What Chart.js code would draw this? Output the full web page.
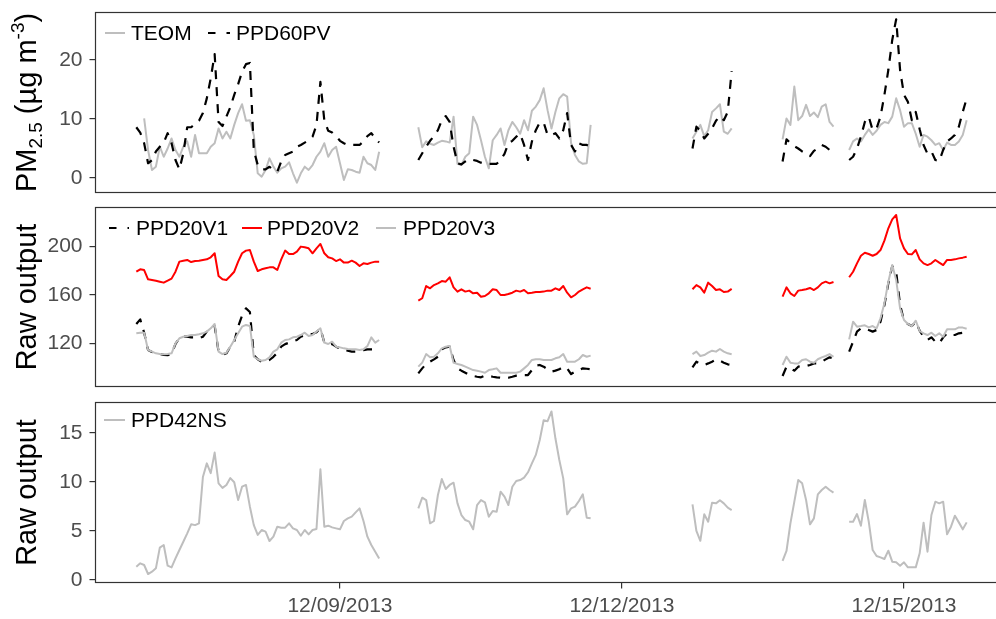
<!DOCTYPE html>
<html>
<head>
<meta charset="utf-8">
<script src="https://cdn.jsdelivr.net/npm/chart.js@4.4.0/dist/chart.umd.min.js"></script>
<style>
  html, body { margin: 0; padding: 0; background: #ffffff; overflow: hidden; }
  #wrap { position: relative; width: 996px; height: 619px; overflow: hidden; background: #ffffff; }
  #wrap canvas { position: absolute; left: 0; top: 0; }
</style>
</head>
<body>
<div id="wrap">
  <canvas id="pm" width="1000" height="619"></canvas>
  <canvas id="ppd20" width="1000" height="619"></canvas>
  <canvas id="ppd42" width="1000" height="619"></canvas>
</div>
<script>
// Time axis: hours counted from 06 Dec 2013 00:00, hourly readings split into runs.
const runStarts = [20, 92, 162, 185, 202];
const teomStarts = [22, 92, 162, 185, 202];

const xTickHours = [72, 144, 216];
const xTickLabels = ['12/09/2013', '12/12/2013', '12/15/2013'];
const pmTicks = [0, 10, 20];
const ppd20Ticks = [120, 160, 200];
const ppd42Ticks = [0, 5, 10, 15];

// PM2.5 (ug m-3)
const teom = [
  [10.1, 4.75, 1.36, 1.92, 5.3, 3.6, 5.0, 6.7, 4.75, 3.6, 5.3, 6.2, 3.6, 7.3, 4.2, 4.2, 4.2, 5.3, 5.9, 8.4,
   6.7, 7.85, 6.7, 9.0, 11.0, 12.5, 9.7, 9.8, 7.3, 0.8, 0.23, 1.36, 3.33, 1.92, 0.9, 1.64, 1.92, 2.66, 0.8, -0.8,
   0.8, 1.92, 1.36, 2.2, 3.6, 4.46, 5.9, 3.6, 4.75, 5.3, 2.5, -0.34, 1.47, 1.36, 1.07, 0.9, 3.6, 2.5, 2.2, 1.36, 4.46],
  [8.6, 5.2, 6.2, 5.8, 5.6, 6.0, 6.3, 6.2, 6.0, 10.4, 2.4, 2.2, 3.6, 4.2, 10.4, 9.0, 6.4, 3.6, 1.64, 6.4,
   7.3, 8.4, 5.6, 8.1, 9.5, 8.6, 7.5, 9.8, 8.1, 11.4, 12.1, 13.2, 15.2, 11.5, 8.4, 11.2, 13.5, 14.2, 13.8, 5.9,
   3.9, 2.8, 2.4, 2.5, 9.0],
  [6.7, 7.85, 9.0, 7.1, 8.1, 11.2, 11.8, 12.5, 7.85, 7.5, 8.4],
  [6.55, 10.1, 9.0, 15.5, 9.8, 10.5, 12.4, 10.5, 11.1, 10.3, 12.1, 12.5, 9.5, 8.7],
  [4.75, 6.2, 6.7, 6.2, 7.3, 8.25, 7.3, 8.0, 9.0, 9.5, 9.3, 10.4, 13.5, 11.5, 8.7, 9.3, 9.3, 7.5, 5.3, 7.3,
   7.0, 6.4, 5.6, 5.9, 4.75, 6.0, 5.6, 5.6, 6.2, 7.3, 9.8]
];
const ppd60pv = [
  [8.6, 7.7, 5.9, 2.5, 3.0, 4.5, 5.3, 6.0, 7.6, 5.9, 3.05, 1.47, 4.2, 8.6, 8.6, 9.15, 9.7, 11.0, 13.5, 16.9,
   21.0, 9.5, 8.8, 10.4, 12.0, 14.1, 15.9, 18.0, 19.3, 19.5, 4.7, 2.2, 1.47, 1.47, 1.9, 1.36, 1.07, 2.8, 3.9, 4.2,
   4.46, 5.3, 5.6, 6.0, 6.4, 7.0, 9.0, 16.3, 9.8, 8.0, 7.7, 7.1, 6.3, 5.9, 5.6, 5.6, 5.6, 5.6, 6.2, 7.1,
   7.6, 6.7, 6.0],
  [3.05, 4.2, 5.3, 6.3, 7.1, 8.1, 9.8, 10.5, 9.5, 5.3, 2.5, 2.3, 2.8, 3.2, 3.05, 2.9, 2.6, 2.4, 2.4, 2.4,
   2.4, 3.05, 4.1, 5.9, 6.3, 7.0, 7.5, 5.6, 3.05, 6.2, 8.1, 9.4, 9.4, 7.3, 7.3, 7.6, 6.7, 8.1, 11.0, 5.6,
   4.5, 5.9, 5.6, 5.6, 5.3],
  [5.0, 8.7, 8.0, 6.7, 7.5, 8.4, 9.7, 10.5, 9.8, 11.2, 18.1],
  [2.8, 6.55, 5.9, 5.4, 5.0, 4.5, 4.1, 3.7, 4.6, 5.0, 5.6, 5.3, 4.75, 4.3],
  [3.05, 3.6, 5.0, 7.0, 9.5, 10.4, 8.1, 8.4, 10.4, 14.1, 18.3, 23.4, 26.9, 18.3, 14.1, 12.9, 9.8, 11.2, 8.25, 5.6,
   4.1, 4.5, 3.05, 2.9, 4.75, 6.2, 6.7, 7.3, 8.7, 11.2, 13.5]
];

// PPD20 raw output
const ppd20v1 = [
  [136.1, 139.9, 128.9, 114.6, 113.0, 111.9, 111.3, 110.6, 110.3, 111.3, 119.6, 124.3, 125.6, 125.6, 125.1, 125.1, 124.3, 125.6, 129.8, 131.6,
   134.5, 113.3, 110.6, 111.9, 117.4, 121.5, 134.0, 143.0, 149.0, 146.0, 110.2, 107.0, 105.0, 105.0, 106.4, 109.0, 112.4, 117.4, 119.5, 120.7,
   121.8, 122.9, 125.6, 126.7, 127.8, 127.8, 129.2, 132.5, 120.7, 118.8, 119.6, 117.4, 116.0, 114.6, 114.1, 113.3, 113.3, 114.1, 114.6, 115.2,
   115.2, 115.2, 114.1],
  [95.4, 99.5, 103.1, 105.0, 106.9, 109.1, 115.2, 116.8, 117.4, 106.4, 99.5, 97.6, 95.9, 94.0, 93.2, 92.6, 92.1, 93.5, 93.2, 92.6,
   92.1, 91.8, 91.8, 91.8, 92.6, 93.5, 94.0, 94.0, 94.0, 98.1, 101.7, 102.3, 100.9, 98.7, 96.8, 97.6, 98.7, 100.9, 99.5, 94.8,
   96.8, 98.1, 99.5, 99.2, 98.7],
  [100.3, 105.0, 103.1, 102.3, 103.6, 105.0, 106.9, 105.8, 104.2, 102.8, 102.3],
  [93.2, 100.9, 99.5, 97.6, 100.9, 101.4, 101.4, 102.3, 103.6, 103.6, 105.0, 106.9, 108.6, 107.8],
  [113.3, 121.5, 129.8, 132.5, 132.5, 131.1, 129.8, 131.1, 138.0, 151.8, 169.6, 183.9, 179.2, 151.8, 138.8, 136.1, 134.4, 138.0, 130.6, 125.6,
   122.9, 125.1, 121.5, 120.1, 125.1, 128.4, 127.0, 127.0, 128.4, 128.9, 127.8]
];
const ppd20v2 = [
  [179.2, 181.2, 180.6, 172.9, 172.4, 171.8, 171.0, 170.2, 171.8, 173.5, 179.2, 187.5, 188.3, 188.9, 187.2, 188.0, 188.3, 188.9, 189.4, 191.1,
   194.4, 175.7, 172.9, 172.4, 175.7, 179.2, 187.5, 194.4, 196.6, 197.1, 187.5, 179.8, 181.2, 182.0, 182.8, 182.8, 180.6, 189.4, 196.6, 193.8,
   193.8, 195.7, 199.9, 199.3, 198.5, 194.4, 198.5, 202.1, 194.4, 191.1, 190.2, 188.0, 189.4, 186.7, 186.7, 188.3, 186.7, 183.9, 186.1, 185.6,
   186.7, 187.5, 187.5],
  [155.3, 157.3, 167.4, 165.5, 168.2, 169.6, 171.5, 171.0, 174.6, 166.3, 162.8, 164.7, 162.8, 163.6, 161.4, 161.9, 158.6, 159.2, 161.4, 164.7,
   164.1, 160.0, 160.0, 160.8, 161.9, 163.6, 162.8, 164.1, 161.4, 161.9, 162.5, 162.5, 162.8, 163.6, 163.6, 165.5, 164.1, 167.4, 161.9, 158.1,
   160.0, 162.8, 164.7, 166.3, 165.2],
  [164.7, 168.2, 166.3, 161.9, 170.2, 167.4, 164.1, 164.7, 162.5, 162.8, 165.0],
  [158.6, 166.3, 161.4, 159.2, 163.6, 164.1, 164.7, 165.8, 164.1, 166.3, 169.6, 171.0, 169.6, 170.7],
  [174.6, 179.2, 186.1, 192.4, 194.9, 193.8, 192.4, 193.8, 197.1, 204.8, 215.0, 222.4, 226.0, 206.7, 198.5, 193.8, 193.5, 197.1, 189.4, 186.1,
   184.7, 186.1, 188.9, 186.7, 184.7, 188.9, 188.9, 189.4, 190.2, 190.8, 191.6]
];
const ppd20v3 = [
  [128.4, 128.9, 128.9, 114.6, 113.3, 111.9, 111.3, 111.1, 111.3, 111.9, 120.1, 124.3, 125.6, 126.2, 127.0, 127.0, 127.6, 128.4, 129.8, 132.5,
   136.1, 113.3, 111.3, 112.4, 117.4, 122.9, 128.4, 133.9, 135.3, 134.5, 109.1, 107.0, 105.8, 106.4, 108.6, 113.3, 115.2, 120.7, 122.9, 123.4,
   125.1, 125.6, 127.0, 128.9, 126.2, 127.0, 129.8, 132.5, 120.7, 119.6, 121.5, 117.4, 116.8, 116.0, 115.5, 115.2, 115.2, 114.6, 115.2, 117.9,
   125.1, 120.7, 122.9],
  [100.9, 104.2, 111.3, 108.6, 109.1, 111.9, 116.0, 117.4, 117.9, 104.2, 103.1, 102.3, 100.9, 99.5, 98.1, 97.6, 96.8, 95.9, 98.1, 98.7,
   99.5, 95.9, 95.9, 95.9, 95.9, 95.9, 96.8, 99.5, 102.3, 106.4, 107.0, 107.0, 106.4, 106.4, 106.4, 107.8, 108.6, 111.3, 105.0, 105.0,
   105.0, 107.0, 110.5, 109.1, 110.0],
  [111.3, 113.3, 109.7, 110.5, 112.4, 114.1, 113.3, 115.5, 113.3, 111.9, 111.1],
  [102.3, 109.1, 104.2, 103.6, 103.6, 106.4, 107.0, 105.0, 104.2, 107.0, 108.6, 109.7, 111.3, 109.1],
  [123.4, 138.0, 133.9, 134.4, 135.0, 133.3, 134.4, 132.5, 140.8, 153.1, 171.0, 184.7, 172.4, 149.0, 139.4, 136.1, 134.4, 138.8, 130.3, 128.4,
   127.0, 128.9, 126.2, 128.4, 125.6, 131.7, 131.7, 131.7, 133.3, 133.1, 132.2]
];

// PPD42NS raw output
const ppd42ns = [
  [1.36, 1.7, 1.53, 0.61, 0.85, 1.19, 3.3, 3.57, 1.46, 1.29, 2.2, 3.06, 3.9, 4.76, 5.68, 5.6, 5.78, 10.5, 11.9, 10.9,
   13.0, 9.86, 9.4, 9.7, 10.4, 9.97, 8.16, 9.52, 9.7, 7.48, 5.6, 4.6, 5.1, 4.93, 3.98, 4.42, 5.44, 5.34, 5.34, 5.78,
   5.27, 5.1, 4.52, 5.1, 4.66, 5.1, 5.2, 11.3, 5.44, 5.54, 5.37, 5.27, 5.17, 6.02, 6.29, 6.46, 6.9, 7.31, 6.02, 4.42,
   3.57, 2.89, 2.2],
  [7.31, 8.4, 8.16, 5.78, 6.02, 8.67, 10.3, 9.29, 9.7, 9.93, 7.82, 6.63, 6.12, 5.95, 5.17, 7.65, 8.16, 7.93, 6.46, 7.04,
   6.97, 9.01, 8.5, 7.65, 9.52, 10.1, 10.2, 10.44, 10.99, 11.9, 12.76, 14.29, 16.3, 16.2, 17.2, 14.46, 12.24, 10.37, 6.7, 7.31,
   7.48, 8.06, 8.74, 6.36, 6.29],
  [7.72, 5.0, 4.0, 6.7, 5.95, 7.89, 7.82, 8.13, 7.82, 7.38, 7.14],
  [1.94, 2.96, 5.78, 7.99, 10.2, 9.86, 8.16, 5.68, 6.29, 8.74, 9.18, 9.52, 9.18, 8.91],
  [5.95, 5.95, 6.73, 5.54, 8.16, 5.95, 3.06, 2.45, 2.31, 2.14, 2.99, 1.87, 1.8, 1.46, 1.8, 1.29, 1.29, 1.29, 2.72, 5.85,
   2.89, 6.63, 7.99, 7.82, 7.99, 4.66, 5.44, 6.56, 5.88, 5.17, 5.88]
];

// ---- drawing ----
const FONT = '"Liberation Sans", Arial, Helvetica, sans-serif';
const GREY = '#bebebe';
const RED = '#ff0000';
const BLACK = '#000000';
const TEXT_GREY = '#4d4d4d';
const LINE_DARK = '#333333';
const X_MIN = 9.58;
const X_MAX = 240;

// Join hourly runs into {x, y} points; a null point breaks the line between runs.
function runsToPoints(starts, runs) {
  const pts = [];
  runs.forEach((run, k) => {
    if (k > 0) pts.push({ x: starts[k] - 1, y: null });
    run.forEach((v, i) => pts.push({ x: starts[k] + i, y: v }));
  });
  return pts;
}

function series(label, pts, color, dashed, order) {
  return {
    label: label,
    data: pts,
    borderColor: color,
    borderWidth: dashed ? 2.2 : 2,
    borderDash: dashed ? [9, 8] : [],
    borderCapStyle: 'butt',
    borderJoinStyle: 'round',
    pointRadius: 0,
    tension: 0,
    fill: false,
    spanGaps: false,
    order: order
  };
}

const framePlugin = {
  id: 'panelFrame',
  afterDraw(chart) {
    const { ctx, chartArea: a } = chart;
    ctx.save();
    ctx.strokeStyle = LINE_DARK;
    ctx.lineWidth = 1.2;
    ctx.strokeRect(a.left, a.top, a.right - a.left, a.bottom - a.top);
    ctx.restore();
  }
};

// Rotated y-axis title, with optional sub/superscript pieces.
const titlePlugin = {
  id: 'axisTitle',
  afterDraw(chart, args, opts) {
    const { ctx, chartArea: a } = chart;
    const parts = opts.parts;
    ctx.save();
    ctx.translate(opts.x, (a.top + a.bottom) / 2);
    ctx.rotate(-Math.PI / 2);
    ctx.fillStyle = BLACK;
    ctx.textBaseline = 'alphabetic';
    let total = 0;
    const widths = parts.map(p => {
      ctx.font = p.size + 'px ' + FONT;
      const w = ctx.measureText(p.text).width;
      total += w;
      return w;
    });
    let x = -total / 2;
    parts.forEach((p, i) => {
      ctx.font = p.size + 'px ' + FONT;
      ctx.fillText(p.text, x, opts.baseline + (p.dy || 0));
      x += widths[i];
    });
    ctx.restore();
  }
};

// Key drawn inside the panel's top-left corner.
const keyPlugin = {
  id: 'seriesKey',
  afterDraw(chart, args, opts) {
    const { ctx } = chart;
    ctx.save();
    ctx.font = opts.size + 'px ' + FONT;
    ctx.textBaseline = 'middle';
    ctx.fillStyle = BLACK;
    chart.data.datasets.forEach((ds, i) => {
      const it = opts.items[i];
      ctx.strokeStyle = ds.borderColor;
      ctx.lineWidth = ds.borderWidth;
      ctx.lineCap = 'butt';
      ctx.setLineDash(ds.borderDash.length ? opts.dash : []);
      ctx.beginPath();
      ctx.moveTo(it.x, opts.lineY);
      ctx.lineTo(it.x + it.w, opts.lineY);
      ctx.stroke();
      ctx.setLineDash([]);
      ctx.fillText(ds.label, it.tx, opts.textY);
    });
    ctx.restore();
  }
};

function yScale(min, max, ticks) {
  return {
    type: 'linear',
    min: min,
    max: max,
    afterBuildTicks: s => { s.ticks = ticks.map(v => ({ value: v })); },
    afterFit: s => { s.width = 95.5; s.paddingTop = 0; s.paddingBottom = 0; },
    ticks: { font: { family: FONT, size: 21 }, color: TEXT_GREY, padding: 7 },
    grid: { drawOnChartArea: false, drawTicks: true, tickLength: 6, color: LINE_DARK, lineWidth: 1.2 },
    border: { display: false }
  };
}

function hiddenX() {
  return { type: 'linear', min: X_MIN, max: X_MAX, display: false };
}

function shownX() {
  return {
    type: 'linear',
    min: X_MIN,
    max: X_MAX,
    position: 'bottom',
    afterBuildTicks: s => { s.ticks = xTickHours.map(v => ({ value: v })); },
    afterFit: s => { s.height = 36.5; s.paddingLeft = 0; s.paddingRight = 0; },
    ticks: {
      callback: v => xTickLabels[xTickHours.indexOf(v)],
      font: { family: FONT, size: 21 },
      color: TEXT_GREY,
      padding: 5,
      maxRotation: 0,
      autoSkip: false
    },
    grid: { drawOnChartArea: false, drawTicks: true, tickLength: 6, color: LINE_DARK, lineWidth: 1.2 },
    border: { display: false }
  };
}

function panel(id, datasets, opts) {
  return new Chart(document.getElementById(id), {
    type: 'line',
    data: { datasets: datasets },
    options: {
      responsive: false,
      animation: false,
      devicePixelRatio: 1,
      events: [],
      layout: { autoPadding: false, padding: opts.padding },
      scales: { x: opts.x, y: opts.y },
      plugins: {
        legend: { display: false },
        tooltip: { enabled: false },
        axisTitle: opts.title,
        seriesKey: opts.key
      }
    },
    plugins: [framePlugin, titlePlugin, keyPlugin]
  });
}

// Panel 1: PM2.5 mass concentration
panel('pm', [
  series('TEOM', runsToPoints(teomStarts, teom), GREY, false, 2),
  series('PPD60PV', runsToPoints(runStarts, ppd60pv), BLACK, true, 1)
], {
  padding: { left: 0, right: 2, top: 12.5, bottom: 426.5 },
  x: hiddenX(),
  y: yScale(-2.458, 28.05, pmTicks),
  title: { x: 25.5, baseline: 10, parts: [
    { text: 'PM', size: 29 },
    { text: '2.5', size: 19, dy: 6 },
    { text: ' (\u00b5g m', size: 29 },
    { text: '-3', size: 19, dy: -12 },
    { text: ')', size: 29 }
  ] },
  key: { size: 21, lineY: 33, textY: 34, dash: [7.5, 11], items: [
    { x: 105, w: 20, tx: 131 },
    { x: 208, w: 22, tx: 236 }
  ] }
});

// Panel 2: PPD20 sensors
panel('ppd20', [
  series('PPD20V1', runsToPoints(runStarts, ppd20v1), BLACK, true, 3),
  series('PPD20V2', runsToPoints(runStarts, ppd20v2), RED, false, 2),
  series('PPD20V3', runsToPoints(runStarts, ppd20v3), GREY, false, 1)
], {
  padding: { left: 0, right: 2, top: 207.5, bottom: 232.5 },
  x: hiddenX(),
  y: yScale(84.54, 232.16, ppd20Ticks),
  title: { x: 25.5, baseline: 10, parts: [{ text: 'Raw output', size: 29 }] },
  key: { size: 21, lineY: 228, textY: 229, dash: [7.5, 11], items: [
    { x: 109, w: 20, tx: 136 },
    { x: 242, w: 20, tx: 267 },
    { x: 376, w: 20, tx: 403 }
  ] }
});

// Panel 3: PPD42NS sensor with the shared date axis
panel('ppd42', [
  series('PPD42NS', runsToPoints(runStarts, ppd42ns), GREY, false, 1)
], {
  padding: { left: 0, right: 2, top: 402.5, bottom: 0 },
  x: shownX(),
  y: yScale(-0.255, 18.11, ppd42Ticks),
  title: { x: 25.5, baseline: 10, parts: [{ text: 'Raw output', size: 29 }] },
  key: { size: 21, lineY: 420, textY: 421, dash: [7.5, 11], items: [
    { x: 104, w: 21, tx: 131 }
  ] }
});
</script>
</body>
</html>
